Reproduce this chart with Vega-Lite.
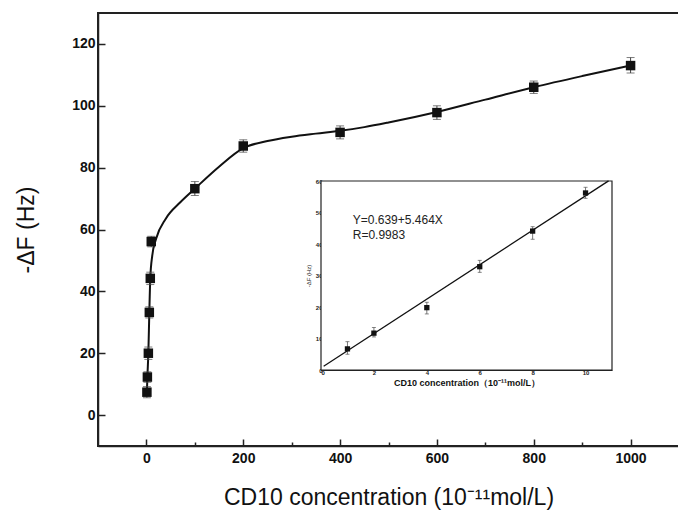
{
  "$schema": "https://vega.github.io/schema/vega-lite/v6.json",
  "width": 581,
  "height": 433,
  "autosize": {"type": "none"},
  "padding": {"left": 98, "top": 13, "right": 0, "bottom": 71},
  "background": "white",
  "config": {
    "view": {"stroke": "#222", "strokeWidth": 2},
    "axis": {"grid": false, "domainColor": "#222", "domainWidth": 1.5, "tickColor": "#222", "tickWidth": 1.5, "labelColor": "#111", "titleColor": "#111", "labelFont": "Liberation Sans", "titleFont": "Liberation Sans"}
  },
  "datasets": {
    "main": [
      {"x": 1, "y": 7.4, "lo": 5.6, "hi": 9.2},
      {"x": 2, "y": 12.3, "lo": 10.6, "hi": 14},
      {"x": 4, "y": 20, "lo": 18, "hi": 22},
      {"x": 6, "y": 33.2, "lo": 31.4, "hi": 35},
      {"x": 8, "y": 44.2, "lo": 42.2, "hi": 46.2},
      {"x": 10, "y": 56.1, "lo": 54.4, "hi": 57.8},
      {"x": 100, "y": 73.2, "lo": 71, "hi": 75.5},
      {"x": 200, "y": 87, "lo": 85, "hi": 89},
      {"x": 400, "y": 91.4, "lo": 89.3, "hi": 93.5},
      {"x": 600, "y": 97.8, "lo": 95.6, "hi": 100},
      {"x": 800, "y": 106, "lo": 104, "hi": 108},
      {"x": 1000, "y": 113, "lo": 110.6, "hi": 115.6}
    ],
    "curve": [
      {"x": 1, "y": 7.4},
      {"x": 2, "y": 12.3},
      {"x": 4, "y": 20},
      {"x": 6, "y": 33.2},
      {"x": 8, "y": 44.2},
      {"x": 12, "y": 51.5},
      {"x": 20, "y": 57},
      {"x": 40, "y": 63.5},
      {"x": 70, "y": 68.8},
      {"x": 100, "y": 73.2},
      {"x": 150, "y": 80.3},
      {"x": 200, "y": 86.3},
      {"x": 250, "y": 88.6},
      {"x": 300, "y": 90},
      {"x": 350, "y": 91},
      {"x": 400, "y": 91.9},
      {"x": 450, "y": 93.1},
      {"x": 500, "y": 94.6},
      {"x": 600, "y": 98},
      {"x": 700, "y": 102},
      {"x": 800, "y": 106},
      {"x": 900, "y": 109.6},
      {"x": 1000, "y": 113}
    ],
    "inset": [
      {"c": 1, "d": 6.7, "lo": 5, "hi": 9},
      {"c": 2, "d": 11.7, "lo": 10.5, "hi": 13.5},
      {"c": 4, "d": 19.8, "lo": 17.8, "hi": 21.5},
      {"c": 6, "d": 32.8, "lo": 31, "hi": 34.8},
      {"c": 8, "d": 44.1, "lo": 41.5, "hi": 45.5},
      {"c": 10, "d": 56.2, "lo": 54.5, "hi": 58}
    ],
    "fit": [
      {"c": 0.1, "d": 1.19},
      {"c": 10.87, "d": 60.03}
    ],
    "frame": [
      {"c0": 0, "c1": 11, "d0": 0, "d1": 60}
    ],
    "eq": [
      {"c": 1.2, "d": 47.6, "t": "Y=0.639+5.464X"},
      {"c": 1.2, "d": 42.8, "t": "R=0.9983"}
    ]
  },
  "layer": [
    {
      "layer": [
        {
          "data": {"name": "curve"},
          "mark": {"type": "line", "interpolate": "monotone", "color": "#111", "strokeWidth": 2},
          "encoding": {
            "x": {"field": "x", "type": "quantitative", "title": "CD10 concentration (10⁻¹¹mol/L)",
              "scale": {"domain": [-100, 1100], "nice": false, "zero": false},
              "axis": {"values": [0, 100, 200, 300, 400, 500, 600, 700, 800, 900, 1000],
                "labelExpr": "datum.value % 200 === 0 ? datum.label : ''",
                "format": "d",
                "tickSize": {"condition": {"test": "datum.value % 200 === 0", "value": -7}, "value": -4},
                "labelFontSize": 14, "labelFontWeight": "bold", "labelPadding": 12,
                "titleFontSize": 23, "titleFontWeight": "normal", "titlePadding": 21}},
            "y": {"field": "y", "type": "quantitative", "title": "-ΔF (Hz)",
              "scale": {"domain": [-10, 130], "nice": false, "zero": false},
              "axis": {"values": [0, 10, 20, 30, 40, 50, 60, 70, 80, 90, 100, 110, 120],
                "labelExpr": "datum.value % 20 === 0 ? datum.label : ''",
                "tickSize": {"condition": {"test": "datum.value % 20 === 0", "value": -7}, "value": -4},
                "labelFontSize": 14, "labelFontWeight": "bold", "labelPadding": 10,
                "titleFontSize": 23, "titleFontWeight": "normal", "titlePadding": 33}}
          }
        },
        {
          "data": {"name": "main"},
          "mark": {"type": "errorbar", "color": "#444", "ticks": {"size": 8, "color": "#444"}, "rule": {"strokeWidth": 1}},
          "encoding": {
            "x": {"field": "x", "type": "quantitative", "title": "CD10 concentration (10⁻¹¹mol/L)"},
            "y": {"field": "lo", "type": "quantitative", "title": "-ΔF (Hz)"},
            "y2": {"field": "hi"}
          }
        },
        {
          "data": {"name": "main"},
          "mark": {"type": "point", "shape": "square", "filled": true, "color": "#111", "opacity": 1, "size": 90},
          "encoding": {
            "x": {"field": "x", "type": "quantitative", "title": "CD10 concentration (10⁻¹¹mol/L)"},
            "y": {"field": "y", "type": "quantitative", "title": "-ΔF (Hz)"}
          }
        }
      ]
    },
    {
      "layer": [
        {
          "data": {"name": "frame"},
          "mark": {"type": "rect", "fill": "white", "stroke": "#222", "strokeWidth": 1.2},
          "encoding": {
            "x": {"field": "c0", "type": "quantitative", "title": "CD10 concentration（10⁻¹¹mol/L）",
              "scale": {"domain": [0, 11], "range": [223, 514], "nice": false, "zero": false},
              "axis": {"orient": "bottom", "offset": -76, "values": [0, 1, 2, 3, 4, 5, 6, 7, 8, 9, 10],
                "labelExpr": "datum.value % 2 === 0 ? datum.label : ''",
                "tickSize": {"condition": {"test": "datum.value % 2 === 0", "value": -4}, "value": -2.5},
                "tickWidth": 1, "domainWidth": 1, "labelColor": "#222",
                "labelFontSize": 6, "labelFontWeight": "bold", "labelPadding": 3,
                "titleFontSize": 9, "titleFontWeight": "bold", "titlePadding": 3}},
            "x2": {"field": "c1"},
            "y": {"field": "d0", "type": "quantitative", "title": "-ΔF (Hz)",
              "scale": {"domain": [0, 60], "range": [357, 168], "nice": false, "zero": false},
              "axis": {"orient": "left", "offset": -223, "values": [0, 5, 10, 15, 20, 25, 30, 35, 40, 45, 50, 55, 60],
                "labelExpr": "datum.value % 10 === 0 ? datum.label : ''",
                "tickSize": {"condition": {"test": "datum.value % 10 === 0", "value": -4}, "value": -2.5},
                "tickWidth": 1, "domainWidth": 1, "labelColor": "#222", "titleColor": "#222",
                "labelFontSize": 6, "labelFontWeight": "bold", "labelPadding": 3,
                "titleFontSize": 6, "titleFontWeight": "normal", "titlePadding": 4}},
            "y2": {"field": "d1"}
          }
        },
        {
          "data": {"name": "fit"},
          "mark": {"type": "line", "color": "#111", "strokeWidth": 1.3},
          "encoding": {
            "x": {"field": "c", "type": "quantitative", "title": "CD10 concentration（10⁻¹¹mol/L）"},
            "y": {"field": "d", "type": "quantitative", "title": "-ΔF (Hz)"}
          }
        },
        {
          "data": {"name": "inset"},
          "mark": {"type": "errorbar", "color": "#555", "ticks": {"size": 4, "color": "#555"}, "rule": {"strokeWidth": 0.8}},
          "encoding": {
            "x": {"field": "c", "type": "quantitative", "title": "CD10 concentration（10⁻¹¹mol/L）"},
            "y": {"field": "lo", "type": "quantitative", "title": "-ΔF (Hz)"},
            "y2": {"field": "hi"}
          }
        },
        {
          "data": {"name": "inset"},
          "mark": {"type": "point", "shape": "square", "filled": true, "color": "#111", "opacity": 1, "size": 28},
          "encoding": {
            "x": {"field": "c", "type": "quantitative", "title": "CD10 concentration（10⁻¹¹mol/L）"},
            "y": {"field": "d", "type": "quantitative", "title": "-ΔF (Hz)"}
          }
        },
        {
          "data": {"name": "eq"},
          "mark": {"type": "text", "align": "left", "baseline": "middle", "font": "Liberation Sans", "fontSize": 12, "color": "#222"},
          "encoding": {
            "x": {"field": "c", "type": "quantitative", "title": "CD10 concentration（10⁻¹¹mol/L）"},
            "y": {"field": "d", "type": "quantitative", "title": "-ΔF (Hz)"},
            "text": {"field": "t"}
          }
        }
      ]
    }
  ],
  "resolve": {"scale": {"x": "independent", "y": "independent"}, "axis": {"x": "independent", "y": "independent"}}
}
